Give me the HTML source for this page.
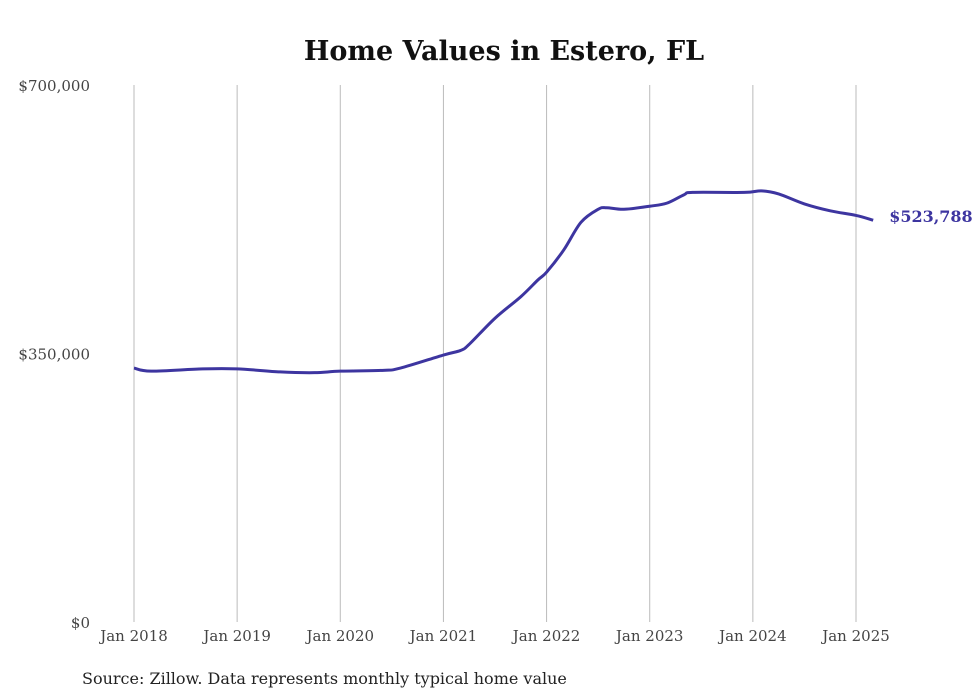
<!DOCTYPE html>
<html><head><meta charset="utf-8"><style>
body{margin:0;background:#fff;}
svg{display:block;font-family:"DejaVu Serif","Liberation Serif",serif;}
</style></head><body>
<svg width="980" height="699" viewBox="0 0 980 699">
<text x="504" y="60" text-anchor="middle" font-size="27" font-weight="bold" fill="#111">Home Values in Estero, FL</text>
<g id="grid"></g><g id="axes"></g><g id="series"></g>
<text x="82" y="684" font-size="16" fill="#222">Source: Zillow. Data represents monthly typical home value</text>
</svg>
<script>
const months=[0,2,8,12,17,21,24,29,31,36,38,39,42,45,47,48,50,52,54,55,57,60,62,64,65,71,73,75,78,81,84,86];
const values=[331000,327000,330000,330000,326000,325000,327000,328000,331000,348000,354000,362000,396000,424000,446000,456000,485000,521000,538000,540000,538000,542000,546000,557000,560000,560000,562000,558000,545000,536000,530000,523788];
const yTicks=[0,350000,700000];
const yLabels=["$0","$350,000","$700,000"];
const xTickYears=["Jan 2018","Jan 2019","Jan 2020","Jan 2021","Jan 2022","Jan 2023","Jan 2024","Jan 2025"];
const endLabel="$523,788";
const NS="http://www.w3.org/2000/svg";
const xs=m=>134+m*(722/84);
const ys=v=>622-v*(537/700000);
function mk(t,a,p){const e=document.createElementNS(NS,t);for(const k in a)e.setAttribute(k,a[k]);p.appendChild(e);return e;}
const grid=document.getElementById('grid'),axes=document.getElementById('axes'),ser=document.getElementById('series');
xTickYears.forEach((l,i)=>{const x=xs(i*12);
const ln=mk('line',{x1:x,x2:x,y1:85,y2:622,stroke:'#bbb','stroke-width':1},grid);


const t=mk('text',{x:x,y:641,'text-anchor':'middle','font-size':15,fill:'#444'},axes);t.textContent=l;

});
yTicks.forEach((v,i)=>{const t=mk('text',{x:90,y:ys(v)+6,'text-anchor':'end','font-size':15,fill:'#444'},axes);t.textContent=yLabels[i];

});
const pts=months.map((m,i)=>[xs(m),ys(values[i])]);
let d='M'+pts[0][0]+','+pts[0][1];
for(let i=1;i<pts.length;i++){const p0=pts[Math.max(0,i-2)],p1=pts[i-1],p2=pts[i],p3=pts[Math.min(pts.length-1,i+1)];
const c1=[p1[0]+(p2[0]-p0[0])/6,p1[1]+(p2[1]-p0[1])/6],c2=[p2[0]-(p3[0]-p1[0])/6,p2[1]-(p3[1]-p1[1])/6];
d+=' C'+c1+' '+c2+' '+p2;}
const path=mk('path',{d:d,fill:'none',stroke:'#3d35a0','stroke-width':3,'stroke-linejoin':'round'},ser);


const last=pts[pts.length-1];
const el=mk('text',{x:last[0]+16,y:last[1]+2,'font-size':16,'font-weight':'bold',fill:'#3d35a0'},ser);el.textContent=endLabel;


</script>
</body></html>
